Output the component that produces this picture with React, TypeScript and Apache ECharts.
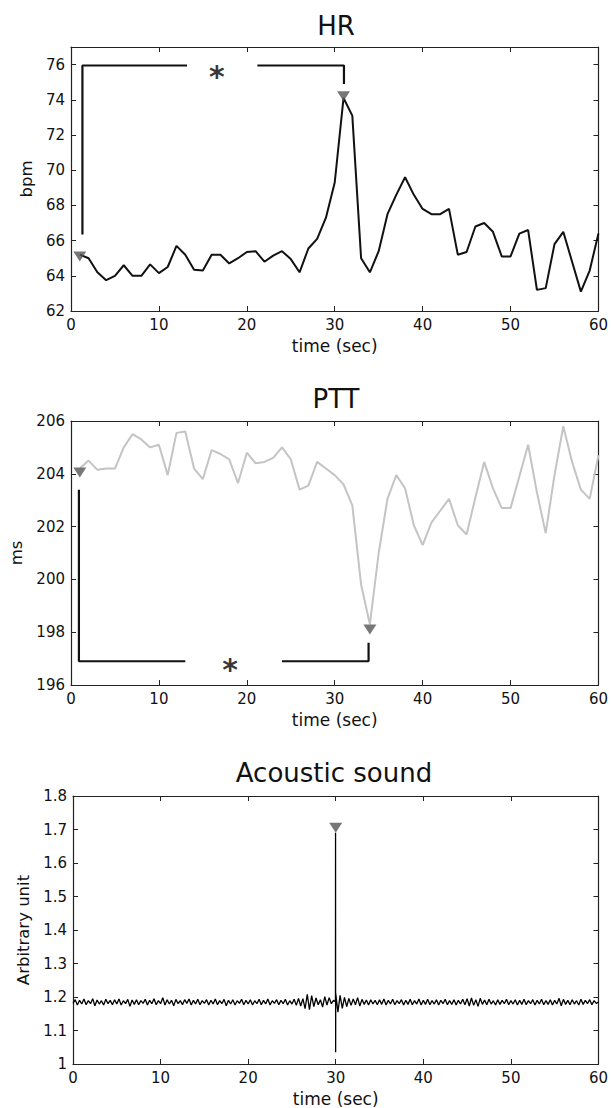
import React, { useEffect, useRef } from "react";
import * as echarts from "echarts";

// ---------- data ----------
// HR (bpm), one value per second, t = 1..60
const hrValues = [
  65.2, 65.0, 64.2, 63.75, 64.0, 64.6, 64.0, 64.0, 64.65, 64.15,
  64.5, 65.7, 65.2, 64.35, 64.3, 65.2, 65.2, 64.7, 65.0, 65.35,
  65.4, 64.8, 65.15, 65.4, 64.95, 64.2, 65.55, 66.1, 67.3, 69.3,
  74.1, 73.1, 65.0, 64.2, 65.4, 67.5, 68.6, 69.6, 68.6, 67.8,
  67.5, 67.5, 67.8, 65.2, 65.35, 66.8, 67.0, 66.5, 65.1, 65.1,
  66.4, 66.6, 63.2, 63.3, 65.8, 66.5, 64.8, 63.1, 64.3, 66.4,
];

// PTT (ms), one value per second, t = 1..60
const pttValues = [
  204.2, 204.5, 204.15, 204.2, 204.2, 205.0, 205.5, 205.3, 205.0, 205.1,
  203.95, 205.55, 205.6, 204.2, 203.8, 204.9, 204.75, 204.55, 203.65, 204.8,
  204.4, 204.45, 204.6, 205.0, 204.55, 203.4, 203.55, 204.45, 204.2, 203.95,
  203.6, 202.8, 199.8, 198.3, 201.0, 203.05, 203.95, 203.45, 202.05, 201.3,
  202.15, 202.6, 203.05, 202.05, 201.7, 203.1, 204.45, 203.45, 202.7, 202.7,
  203.9, 205.1, 203.3, 201.75, 203.95, 205.8, 204.45, 203.4, 203.05, 204.7,
];

// Acoustic sound (arbitrary unit), sampled every 0.25 s from 0 to 60 s
const acousticStep = 0.25;
const acousticValues = [
  1.181, 1.192, 1.176, 1.190, 1.179, 1.194, 1.177, 1.189, 1.180, 1.195, 1.174, 1.191, 1.179, 1.189, 1.176, 1.193, 1.180, 1.190, 1.177, 1.192,
  1.179, 1.194, 1.176, 1.189, 1.180, 1.193, 1.172, 1.191, 1.178, 1.192, 1.177, 1.189, 1.181, 1.193, 1.176, 1.190, 1.180, 1.195, 1.177, 1.189,
  1.180, 1.198, 1.176, 1.192, 1.179, 1.190, 1.174, 1.193, 1.180, 1.189, 1.177, 1.192, 1.181, 1.194, 1.176, 1.190, 1.179, 1.193, 1.177, 1.189,
  1.181, 1.192, 1.176, 1.190, 1.179, 1.194, 1.177, 1.189, 1.180, 1.193, 1.174, 1.190, 1.179, 1.192, 1.176, 1.189, 1.181, 1.193, 1.177, 1.190,
  1.179, 1.192, 1.176, 1.189, 1.180, 1.193, 1.177, 1.190, 1.179, 1.194, 1.176, 1.189, 1.181, 1.192, 1.177, 1.190, 1.180, 1.193, 1.176, 1.189,
  1.179, 1.193, 1.175, 1.196, 1.173, 1.195, 1.165, 1.208, 1.162, 1.204, 1.171, 1.197, 1.177, 1.192, 1.170, 1.201, 1.176, 1.198, 1.180, 1.190,
  1.210, 1.155, 1.205, 1.166, 1.199, 1.171, 1.196, 1.175, 1.194, 1.177, 1.198, 1.173, 1.193, 1.178, 1.191, 1.176, 1.192, 1.179, 1.190, 1.177,
  1.192, 1.178, 1.194, 1.176, 1.190, 1.179, 1.193, 1.177, 1.189, 1.180, 1.192, 1.176, 1.190, 1.178, 1.193, 1.177, 1.189, 1.179, 1.194, 1.176,
  1.190, 1.178, 1.193, 1.177, 1.189, 1.179, 1.192, 1.176, 1.190, 1.180, 1.193, 1.177, 1.189, 1.178, 1.192, 1.176, 1.190, 1.179, 1.193, 1.177,
  1.195, 1.173, 1.197, 1.175, 1.192, 1.172, 1.196, 1.178, 1.191, 1.177, 1.193, 1.179, 1.189, 1.176, 1.192, 1.178, 1.190, 1.180, 1.193, 1.177,
  1.189, 1.179, 1.192, 1.176, 1.190, 1.178, 1.193, 1.177, 1.189, 1.180, 1.192, 1.176, 1.190, 1.179, 1.193, 1.177, 1.189, 1.178, 1.192, 1.176,
  1.190, 1.179, 1.196, 1.174, 1.193, 1.178, 1.190, 1.177, 1.192, 1.179, 1.189, 1.176, 1.193, 1.178, 1.190, 1.180, 1.192, 1.177, 1.189, 1.181,
  1.185,
];
// the cough spike at 30 s
const acousticSpike: number[][] = [
  [29.97, 1.186],
  [29.98, 1.69],
  [29.99, 1.035],
];

// annotations
const hrMarkers = [[1, 65.1], [31, 74.2]];
const hrBracketLeft = [[1.3, 66.35], [1.3, 75.95], [13.2, 75.95]];
const hrBracketRight = [[21.2, 75.95], [31.05, 75.95], [31.05, 74.9]];
const hrStar = [[16.6, 75.35]];

const pttMarkers = [[1, 204.05], [34, 198.1]];
const pttBracketLeft = [[0.9, 203.4], [0.9, 196.9], [13, 196.9]];
const pttBracketRight = [[24, 196.9], [33.85, 196.9], [33.85, 197.6]];
const pttStar = [[18.1, 196.57]];

const acousticMarkers = [[30, 1.705]];

const timeName = "time (sec)";
const titles = ["HR", "PTT", "Acoustic sound"];

// ---------- chart ----------
const FONT = "DejaVu Sans";
const AX = "#222";
const TXT = "#111";

function xAxes(gi: number) {
  const common = {
    type: "value",
    gridIndex: gi,
    min: 0,
    max: 60,
    interval: 10,
    splitLine: { show: false },
    axisLine: { show: true, onZero: false, lineStyle: { color: AX, width: 1.2 } },
    axisTick: { show: true, inside: true, length: 5, lineStyle: { color: AX, width: 1 } },
  };
  return [
    {
      ...common,
      position: "bottom",
      axisLabel: { show: true, margin: 6, color: TXT, fontFamily: FONT, fontSize: 15 },
      name: timeName,
      nameLocation: "middle",
      nameGap: 26,
      nameTextStyle: { fontFamily: FONT, fontSize: 17, color: TXT },
    },
    { ...common, position: "top", axisLabel: { show: false } },
  ];
}

function yAxes(gi: number, min: number, max: number, interval: number, name: string, nameGap: number, showMax: boolean) {
  const common = {
    type: "value",
    gridIndex: gi,
    min,
    max,
    interval,
    splitLine: { show: false },
    axisLine: { show: true, onZero: false, lineStyle: { color: AX, width: 1.2 } },
    axisTick: { show: true, inside: true, length: 5, lineStyle: { color: AX, width: 1 } },
  };
  return [
    {
      ...common,
      position: "left",
      axisLabel: { show: true, margin: 6, color: TXT, fontFamily: FONT, fontSize: 15, showMaxLabel: showMax },
      name,
      nameLocation: "middle",
      nameGap,
      nameTextStyle: { fontFamily: FONT, fontSize: 16.5, color: TXT },
    },
    { ...common, position: "right", axisLabel: { show: false } },
  ];
}

function lineSeries(xi: number, data: number[][], color: string, width: number, z = 2) {
  return {
    type: "line",
    xAxisIndex: xi,
    yAxisIndex: xi,
    data,
    symbol: "none",
    showSymbol: false,
    lineStyle: { color, width },
    z,
    silent: true,
  };
}

function markerSeries(xi: number, data: number[][]) {
  return {
    type: "scatter",
    xAxisIndex: xi,
    yAxisIndex: xi,
    data,
    symbol: "triangle",
    symbolRotate: 180,
    symbolSize: [13, 10],
    itemStyle: { color: "#555" },
    z: 6,
  };
}

function starSeries(xi: number, data: number[][]) {
  return {
    type: "scatter",
    xAxisIndex: xi,
    yAxisIndex: xi,
    data,
    symbol: "circle",
    symbolSize: 1,
    itemStyle: { color: "transparent" },
    label: {
      show: true,
      position: "inside",
      formatter: "*",
      fontFamily: FONT,
      fontWeight: "bold",
      fontSize: 30,
      color: "#000",
    },
    z: 6,
  };
}

export default function App() {
  const ref = useRef<HTMLDivElement>(null);

  useEffect(() => {
    document.body.style.margin = "0";
    if (!ref.current) return;
    const chart = echarts.init(ref.current, undefined, { renderer: "svg" });

    const hrData = hrValues.map((v, i) => [i + 1, v]);
    const pttData = pttValues.map((v, i) => [i + 1, v]);
    const acousticData = acousticValues
      .map((v, i) => [i * acousticStep, v])
      .concat(acousticSpike)
      .sort((a, b) => a[0] - b[0]);

    const option = {
      animation: false,
      backgroundColor: "#ffffff",
      grid: [
        { left: 71, top: 47, width: 530, height: 264 },
        { left: 71, top: 421, width: 530, height: 264 },
        { left: 73, top: 796, width: 528, height: 269 },
      ],
      xAxis: [...xAxes(0), ...xAxes(1), ...xAxes(2)],
      yAxis: [
        ...yAxes(0, 62, 77, 2, "bpm", 36, false),
        ...yAxes(1, 196, 206, 2, "ms", 45, true),
        ...yAxes(2, 1, 1.8, 0.1, "Arbitrary unit", 40, true),
      ],
      graphic: [
        { type: "text", x: 336, y: 25.5, style: { text: titles[0], fontFamily: FONT, fontSize: 26, fill: TXT, align: "center", verticalAlign: "middle" } },
        { type: "text", x: 336, y: 398.5, style: { text: titles[1], fontFamily: FONT, fontSize: 26, fill: TXT, align: "center", verticalAlign: "middle" } },
        { type: "text", x: 334, y: 772.7, style: { text: titles[2], fontFamily: FONT, fontSize: 26, fill: TXT, align: "center", verticalAlign: "middle" } },
      ],
      series: [
        lineSeries(0, hrData, "#111", 2),
        lineSeries(0, hrBracketLeft, "#111", 2.2),
        lineSeries(0, hrBracketRight, "#111", 2.2),
        starSeries(0, hrStar),
        markerSeries(0, hrMarkers),

        lineSeries(2, pttData, "#c4c4c4", 2),
        lineSeries(2, pttBracketLeft, "#111", 2.2),
        lineSeries(2, pttBracketRight, "#111", 2.2),
        starSeries(2, pttStar),
        markerSeries(2, pttMarkers),

        lineSeries(4, acousticData, "#000", 1.3),
        markerSeries(4, acousticMarkers),
      ],
    };
    chart.setOption(option as any);
    return () => chart.dispose();
  }, []);

  return <div ref={ref} style={{ width: 611, height: 1108 }} />;
}
